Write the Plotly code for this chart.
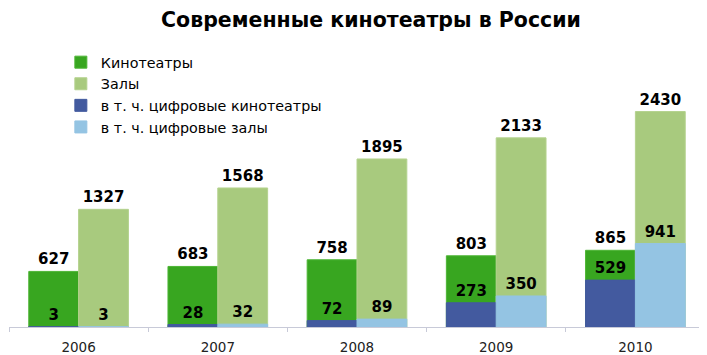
import plotly.graph_objects as go

years = ["2006", "2007", "2008", "2009", "2010"]
cinemas = [627, 683, 758, 803, 865]
halls = [1327, 1568, 1895, 2133, 2430]
digital_cinemas = [3, 28, 72, 273, 529]
digital_halls = [3, 32, 89, 350, 941]

names = ["Кинотеатры", "Залы", "в т. ч. цифровые кинотеатры", "в т. ч. цифровые залы"]
colors = ["#38A620", "#A8CA7E", "#435A9F", "#94C4E3"]
edge = ["#4DB535", "#B4D28E", "#435A9F", "#94C4E3"]

# page body has an 8px default margin; figure sized to fit the 707x355 window
FW, FH = 699, 347

W = 0.358
fig = go.Figure()
series = [cinemas, halls, digital_cinemas, digital_halls]
offsets = [-W, 0, -W, 0]
for s, n, c, e, o in zip(series, names, colors, edge, offsets):
    fig.add_trace(go.Bar(
        x=years, y=s, name=n, width=W, offset=o,
        marker=dict(color=c, line=dict(color=e, width=1)),
        text=[str(v) for v in s], textposition="outside",
        textfont=dict(family="DejaVu Sans", size=15, color="black", weight="bold"),
        cliponaxis=False,
    ))

fig.update_layout(
    barmode="overlay",
    width=FW, height=FH,
    margin=dict(l=1, r=1.5, t=53, b=28),
    paper_bgcolor="white", plot_bgcolor="white",
    font=dict(family="DejaVu Sans", size=13, color="#222222"),
    title=dict(text="<b>Современные кинотеатры в России</b>", x=(371 - 8) / FW, xanchor="center",
               y=1 - (20 - 8) / FH, yanchor="middle", xref="container",
               font=dict(family="DejaVu Sans", size=20.5, color="black")),
    legend=dict(x=0.0745, y=1.055, xanchor="left", yanchor="top", bgcolor="rgba(0,0,0,0)",
                font=dict(family="DejaVu Sans", size=14.3, color="black"), itemwidth=30,
                traceorder="normal"),
    showlegend=True,
    xaxis=dict(type="category", tickson="boundaries", ticks="outside", ticklen=4,
               tickcolor="#C8CAD8", showline=True, linecolor="#C8CAD8", linewidth=1,
               showgrid=False, tickfont=dict(size=13.5, color="#222222"), range=[-0.5, 4.5],
               ticklabelstandoff=8),
    yaxis=dict(range=[0, 3000], visible=False, showgrid=False),
)

fig.write_html("out.html")
